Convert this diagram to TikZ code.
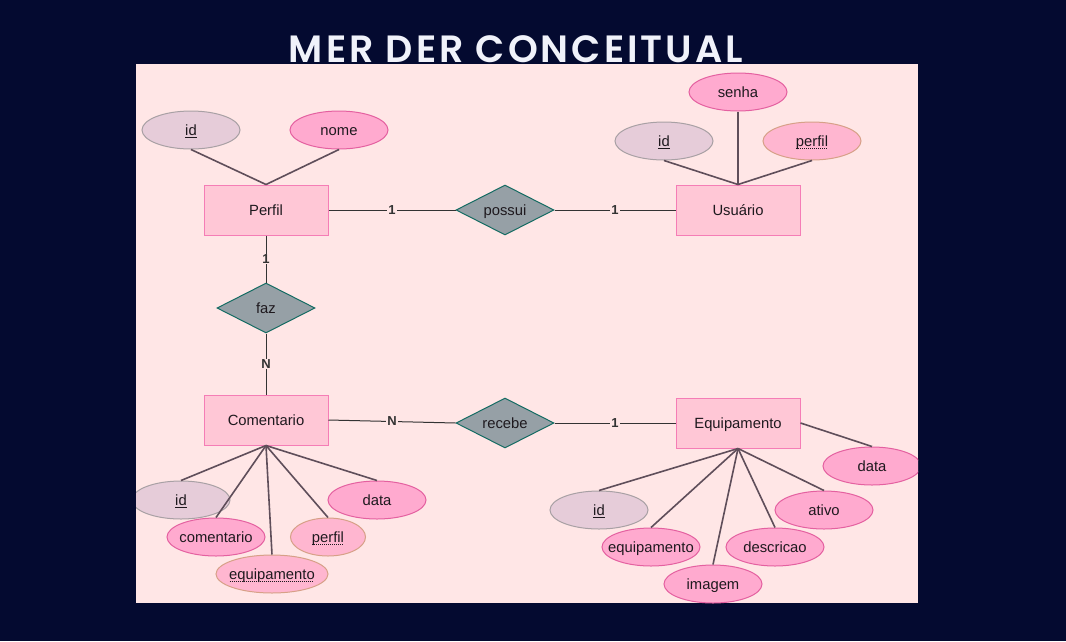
\documentclass[tikz,border=0pt]{standalone}
\usepackage{fontspec}
\setmainfont{Liberation Sans}
\newfontfamily\titlefont[LetterSpace=8]{Poppins SemiBold}
\usetikzlibrary{shapes.geometric}
\definecolor{bgc}{RGB}{4,10,48}
\definecolor{panel}{RGB}{255,230,230}
\definecolor{entfill}{RGB}{255,199,214}
\definecolor{entdraw}{RGB}{245,125,182}
\definecolor{relfill}{RGB}{150,160,166}
\definecolor{reldraw}{RGB}{20,107,98}
\definecolor{idfill}{RGB}{230,204,217}
\definecolor{iddraw}{RGB}{168,160,164}
\definecolor{atfill}{RGB}{255,170,207}
\definecolor{atdraw}{RGB}{228,96,160}
\definecolor{fkfill}{RGB}{255,182,208}
\definecolor{fkdraw}{RGB}{215,160,135}
\definecolor{txt}{RGB}{30,25,30}
\definecolor{lnc}{RGB}{95,78,90}
\definecolor{titlec}{RGB}{240,242,250}
\tikzset{
  every node/.style={text=txt, font=\fontsize{14.8}{15}\selectfont},
  shapetext/.style={text height=10.6pt, text depth=0pt},
  entity/.style={shapetext, rectangle, draw=entdraw, fill=entfill, line width=1pt, minimum width=124pt, minimum height=50pt, inner sep=0pt},
  relbox/.style={shapetext, diamond, draw=reldraw, fill=relfill, line width=1pt, minimum width=98pt, minimum height=50pt, inner sep=0pt, aspect=1.96},
  attr/.style={shapetext, ellipse, line width=1pt, minimum width=98pt, minimum height=38pt, inner ysep=0pt, inner xsep=-20pt},
  pkattr/.style={attr, draw=iddraw, fill=idfill},
  plattr/.style={attr, draw=atdraw, fill=atfill},
  fkattr/.style={attr, draw=fkdraw, fill=fkfill},
  aline/.style={draw=lnc, line width=1.6pt},
  rline/.style={draw=black!80, line width=1pt},
  card/.style={fill=panel, inner sep=1pt, text=black!80, font=\fontsize{13}{13}\selectfont\bfseries}
}
\newcommand{\dotu}[1]{\setbox0\hbox{#1}\leavevmode\copy0\llap{\lower2.6pt\hbox to \wd0{\leaders\hbox to 2pt{\hss\vrule width 1pt height 0.8pt\hss}\hfill}}}
\begin{document}
\begin{tikzpicture}[x=1pt,y=-1pt]
\fill[bgc] (0,0) rectangle (1066,641);
\useasboundingbox (0,0) rectangle (1066,641);
\fill[panel] (136,64) rectangle (918,603);
\node[anchor=base, text=titlec, font=\titlefont\fontsize{38}{38}\selectfont] (title) at (516,62) {MER DER CONCEITUAL};
\begin{scope}
\clip (136,64) rectangle (918,603);
% entities
\node[entity] (perfil) at (266,210) {Perfil};
\node[entity] (usuario) at (738,210) {Usuário};
\node[entity] (coment) at (266,420) {Comentario};
\node[entity] (equip) at (738,423) {Equipamento};
% relationships
\node[relbox] (possui) at (505,210) {possui};
\node[relbox] (faz) at (266,308) {faz};
\node[relbox] (recebe) at (505,423) {recebe};
% attributes Perfil
\node[pkattr] (pid) at (191,130) {\underline{id}};
\node[plattr] (pnome) at (339,130) {nome};
% attributes Usuario
\node[plattr] (usenha) at (738,92) {senha};
\node[pkattr] (uid) at (664,141) {\underline{id}};
\node[fkattr] (uperfil) at (812,141) {\dotu{perfil}};
% attributes Comentario
\node[pkattr] (cid) at (181,500) {\underline{id}};
\node[plattr] (ccom) at (216,537) {comentario};
\node[fkattr, minimum width=112pt] (cequip) at (272,574) {\dotu{equipamento}};
\node[fkattr, minimum width=75pt] (cperfil) at (328,537) {\dotu{perfil}};
\node[plattr] (cdata) at (377,500) {data};
% attributes Equipamento
\node[plattr] (edata) at (872,466) {data};
\node[pkattr] (eid) at (599,510) {\underline{id}};
\node[plattr] (eequip) at (651,547) {equipamento};
\node[plattr] (eimg) at (713,584) {imagem};
\node[plattr] (edesc) at (775,547) {descricao};
\node[plattr] (eativo) at (824,510) {ativo};
% attribute lines
\draw[aline] (perfil.north) -- (pid.south);
\draw[aline] (perfil.north) -- (pnome.south);
\draw[aline] (usuario.north) -- (usenha.south);
\draw[aline] (usuario.north) -- (uid.south);
\draw[aline] (usuario.north) -- (uperfil.south);
\draw[aline] (coment.south) -- (cid.north);
\draw[aline] (coment.south) -- (ccom.north);
\draw[aline] (coment.south) -- (cequip.north);
\draw[aline] (coment.south) -- (cperfil.north);
\draw[aline] (coment.south) -- (cdata.north);
\draw[aline] (equip.east) -- (edata.north);
\draw[aline] (equip.south) -- (eid.north);
\draw[aline] (equip.south) -- (eequip.north);
\draw[aline] (equip.south) -- (eimg.north);
\draw[aline] (equip.south) -- (edesc.north);
\draw[aline] (equip.south) -- (eativo.north);
% relationship lines
\draw[rline] (perfil.east) -- node[card] {1} (possui.west);
\draw[rline] (possui.east) -- node[card] {1} (usuario.west);
\draw[rline] (perfil.south) -- node[card] {1} (faz.north);
\draw[rline] (faz.south) -- node[card] {N} (coment.north);
\draw[rline] (coment.east) -- node[card] {N} (recebe.west);
\draw[rline] (recebe.east) -- node[card] {1} (equip.west);
\end{scope}
\end{tikzpicture}
\end{document}
